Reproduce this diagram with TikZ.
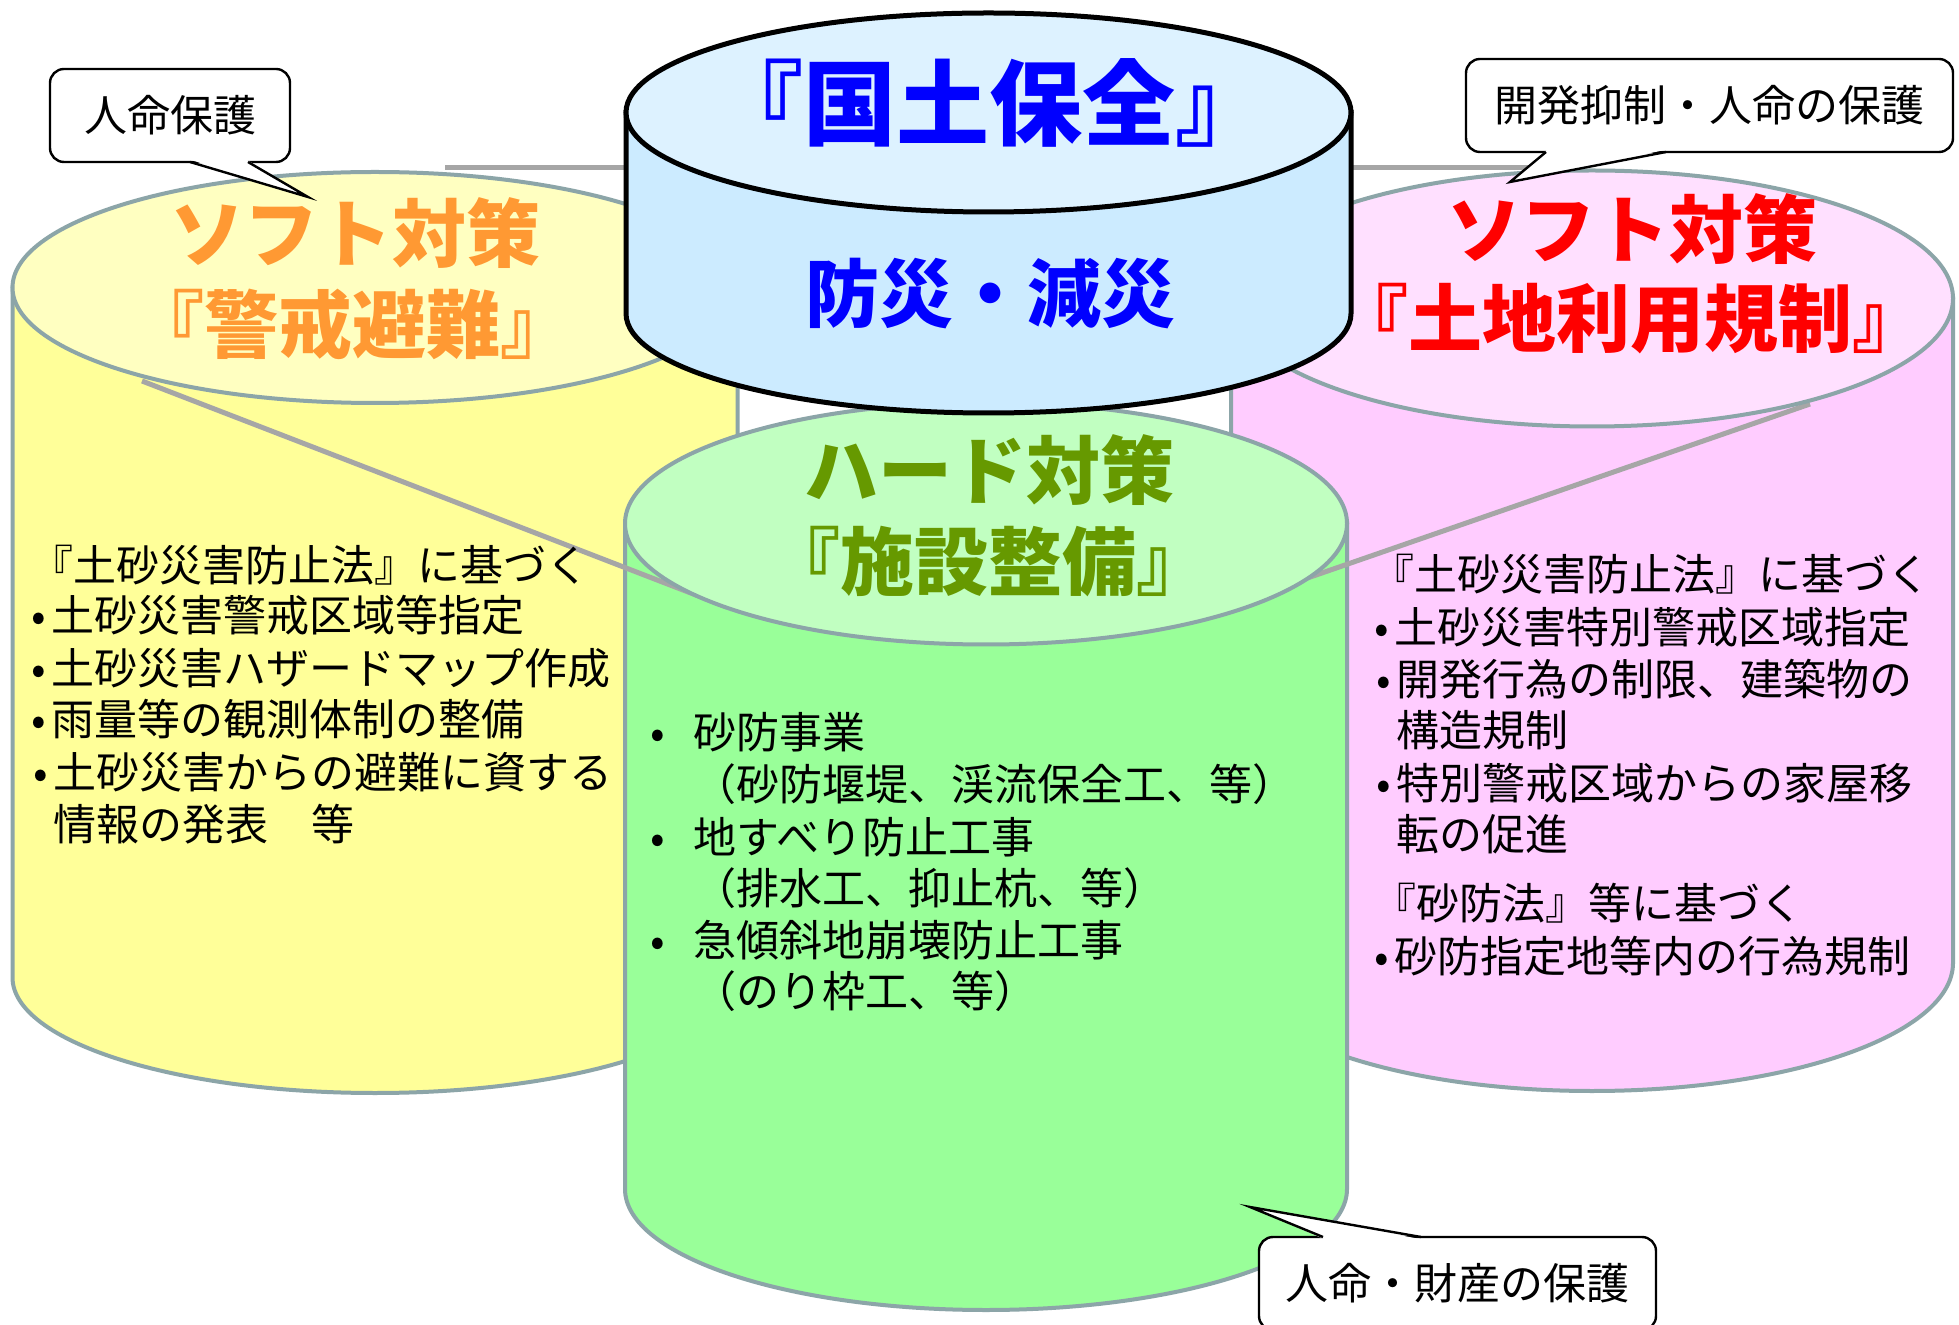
\documentclass[tikz,border=0pt]{standalone}
\usepackage{fontspec}
\usetikzlibrary{calc}
\newfontfamily\jpr{Noto Sans CJK JP}
\definecolor{ylwT}{HTML}{FFFFC1}
\definecolor{ylwB}{HTML}{FFFF99}
\definecolor{pnkT}{HTML}{FFE0FF}
\definecolor{pnkB}{HTML}{FFCCFF}
\definecolor{grnT}{HTML}{C1FFC1}
\definecolor{grnB}{HTML}{99FF99}
\definecolor{bluT}{HTML}{DDF2FF}
\definecolor{bluB}{HTML}{CCEBFF}
\definecolor{rimC}{HTML}{8CA5A8}
\definecolor{lnkC}{HTML}{A6A6A6}
\definecolor{ttlO}{HTML}{FF9933}
\definecolor{ttlR}{HTML}{FF0000}
\definecolor{ttlG}{HTML}{669900}
\definecolor{ttlB}{HTML}{0000FF}
\newcommand\obk{\hspace*{-.5em}『}
\newcommand\cbk{』\hspace*{-.5em}}
\newcommand\mybul{\llap{•\hspace{2.5pt}}}
\newcommand\mybulm{\llap{•\hspace{14pt}}}
\begin{document}
\begin{tikzpicture}[x=0.5pt,y=-0.5pt,
  rim/.style={draw=rimC, line width=2pt},
  bluerim/.style={draw=black, line width=2.5pt},
  link/.style={draw=lnkC, line width=2.5pt},
  ttl/.style={font=\jpr\bfseries\fontsize{37pt}{40pt}\selectfont, inner sep=0pt, text height=32.6pt, text depth=4.4pt},
  bigttl/.style={font=\jpr\bfseries\fontsize{46.5pt}{50pt}\selectfont, inner sep=0pt, text height=40.9pt, text depth=5.6pt},
  bodytxt/.style={font=\jpr\fontsize{21.5pt}{26pt}\selectfont, anchor=west, inner sep=0pt, text height=18.9pt, text depth=2.6pt},
  callout/.style={draw=black, fill=white, line width=1.2pt, rounded corners=7pt, inner sep=0pt, outer sep=0pt, font=\jpr\fontsize{21.5pt}{24pt}\selectfont},
  tail/.style={draw=black, line width=1.2pt, line join=miter}]
\clip (0,0) rectangle (1959,1325);
\fill[white] (0,0) rectangle (1959,1325);

% top connecting line
\coordinate (hA) at (445,168);
\coordinate (hB) at (1530,168);
\draw[link] (hA) -- (hB);

% cylinder bodies
\path[rim, fill=ylwB] (12.5,287.5) -- (12.5,977.5) arc[start angle=180,end angle=360,x radius=181.25pt,y radius=57.75pt] -- (737.5,287.5) -- cycle;
\path[rim, fill=pnkB] (1231,298.5) -- (1231,963) arc[start angle=180,end angle=360,x radius=180.5pt,y radius=64pt] -- (1953,298.5) -- cycle;
\path[rim, fill=grnB] (625,523.5) -- (625,1189) arc[start angle=180,end angle=360,x radius=180.5pt,y radius=60.5pt] -- (1347,523.5) -- cycle;

% diagonal connecting lines
\coordinate (dL1) at (142,381);
\coordinate (dL2) at (727,607);
\coordinate (dR1) at (1810,404);
\coordinate (dR2) at (1267,592);
\draw[link] (dL1) -- (dL2);
\draw[link] (dR1) -- (dR2);

% cylinder tops
\draw[rim, fill=ylwT] (375,287.5) ellipse [x radius=181.25pt, y radius=57.75pt];
\draw[rim, fill=pnkT] (1592,298.5) ellipse [x radius=180.5pt, y radius=64pt];
\draw[rim, fill=grnT] (986,523.5) ellipse [x radius=180.5pt, y radius=60.5pt];

% blue cylinder
\path[bluerim, fill=bluB] (626,112.5) -- (626,313.5) arc[start angle=180,end angle=360,x radius=181.25pt,y radius=49.75pt] -- (1351,112.5) -- cycle;
\draw[bluerim, fill=bluT] (988.5,112.5) ellipse [x radius=181.25pt, y radius=49.75pt];

% titles
\node[bigttl, text=ttlB] (bT1) at (989,103) {\obk 国土保全\cbk};
\node[ttl, text=ttlB] (bT2) at (990,293) {防災・減災};
\node[ttl, text=ttlO] (yT1) at (355,233) {ソフト対策};
\node[ttl, text=ttlO] (yT2) at (352,324) {\obk 警戒避難\cbk};
\node[ttl, text=ttlR] (pT1) at (1632,229) {ソフト対策};
\node[ttl, text=ttlR] (pT2) at (1630,318) {\obk 土地利用規制\cbk};
\node[ttl, text=ttlG] (gT1) at (989,470) {ハード対策};
\node[ttl, text=ttlG] (gT2) at (988,561) {\obk 施設整備\cbk};

% left text
\node[bodytxt] (yL1) at (52,565) {\obk 土砂災害防止法』に基づく};
\node[bodytxt] (yL2) at (51,615) {\mybul 土砂災害警戒区域等指定};
\node[bodytxt] (yL3) at (51,668) {\mybul 土砂災害ハザードマップ作成};
\node[bodytxt] (yL4) at (51,719) {\mybul 雨量等の観測体制の整備};
\node[bodytxt] (yL5) at (53,772) {\mybul 土砂災害からの避難に資する};
\node[bodytxt] (yL6) at (53,824) {情報の発表\hspace{1em}等};

% middle text
\node[bodytxt] (gL1) at (693,732) {\mybulm 砂防事業};
\node[bodytxt] (gL2) at (693,784) {（砂防堰堤、渓流保全工、等）};
\node[bodytxt] (gL3) at (693,837) {\mybulm 地すべり防止工事};
\node[bodytxt] (gL4) at (693,888) {（排水工、抑止杭、等）};
\node[bodytxt] (gL5) at (693,940) {\mybulm 急傾斜地崩壊防止工事};
\node[bodytxt] (gL6) at (693,991) {（のり枠工、等）};

% right text
\node[bodytxt] (pL1) at (1393,574) {\obk 土砂災害防止法』に基づく};
\node[bodytxt] (pL2) at (1394,627) {\mybul 土砂災害特別警戒区域指定};
\node[bodytxt] (pL3) at (1396,679) {\mybul 開発行為の制限、建築物の};
\node[bodytxt] (pL4) at (1396,730) {構造規制};
\node[bodytxt] (pL5) at (1396,783) {\mybul 特別警戒区域からの家屋移};
\node[bodytxt] (pL6) at (1396,834) {転の促進};
\node[bodytxt] (pL7) at (1395,903) {\obk 砂防法』等に基づく};
\node[bodytxt] (pL8) at (1394,956) {\mybul 砂防指定地等内の行為規制};

% callout 1
\node[callout, minimum width=120pt, minimum height=46.5pt] (cb1) at (170,115.5) {人命保護};
\coordinate (cb1tip) at (308,197);
\fill[white] ($(cb1.south west)+(141,-2)$) -- (cb1tip) -- ($(cb1.south west)+(197,-2)$) -- cycle;
\draw[tail] ($(cb1.south west)+(140,0)$) -- (cb1tip) -- ($(cb1.south west)+(198,0)$);

% callout 2
\node[callout, minimum width=243.5pt, minimum height=46.5pt] (cb2) at (1709.5,105.5) {開発抑制・人命の保護};
\coordinate (cb2tip) at (1510,182);
\fill[white] ($(cb2.south west)+(81,-2)$) -- (cb2tip) -- ($(cb2.south west)+(199,-2)$) -- cycle;
\draw[tail] ($(cb2.south west)+(80,0)$) -- (cb2tip) -- ($(cb2.south west)+(200,0)$);

% callout 3
\node[callout, minimum width=198.5pt, minimum height=46.5pt] (cb3) at (1457.5,1283.5) {人命・財産の保護};
\coordinate (cb3tip) at (1250,1207);
\fill[white] ($(cb3.north west)+(65,2)$) -- (cb3tip) -- ($(cb3.north west)+(161,2)$) -- cycle;
\draw[tail] ($(cb3.north west)+(64,0)$) -- (cb3tip) -- ($(cb3.north west)+(162,0)$);
\end{tikzpicture}
\end{document}
